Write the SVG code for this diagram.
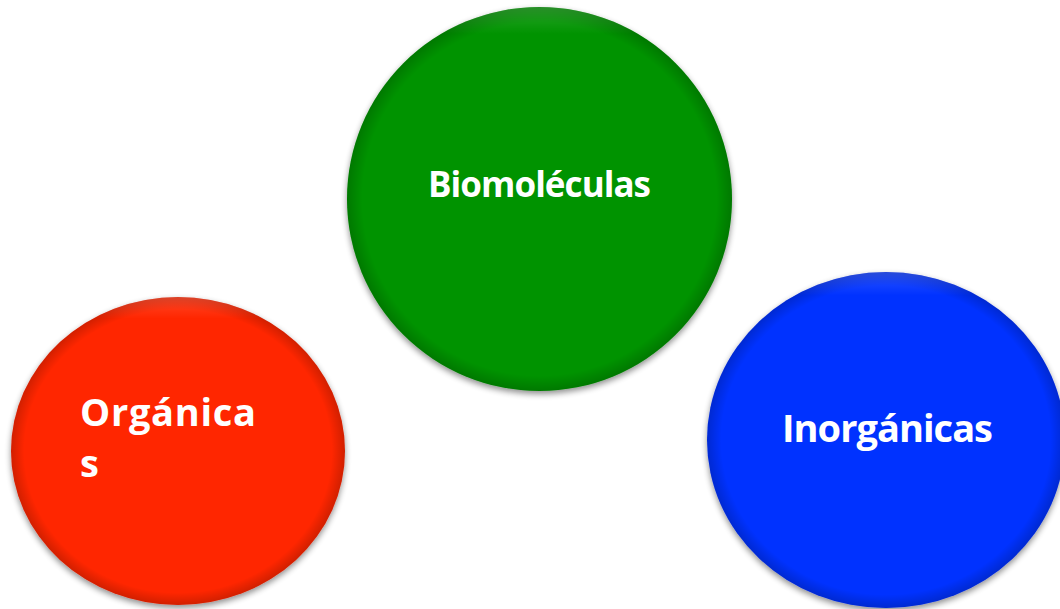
<svg xmlns="http://www.w3.org/2000/svg" width="1060" height="609" viewBox="0 0 1060 609">
<defs>
<filter id="sh" x="-20%" y="-20%" width="140%" height="140%">
<feGaussianBlur in="SourceAlpha" stdDeviation="3"/>
<feOffset dy="3" result="b"/>
<feComponentTransfer><feFuncA type="linear" slope="0.45"/></feComponentTransfer>
<feMerge><feMergeNode/><feMergeNode in="SourceGraphic"/></feMerge>
</filter>
<radialGradient id="rim" cx="50%" cy="50%" r="50%">
<stop offset="0.92" stop-color="#000" stop-opacity="0"/>
<stop offset="1" stop-color="#000" stop-opacity="0.18"/>
</radialGradient>
<linearGradient id="hl" x1="0" y1="0" x2="0" y2="1">
<stop offset="0" stop-color="#fff" stop-opacity="0.16"/>
<stop offset="0.07" stop-color="#fff" stop-opacity="0"/>
</linearGradient>
</defs>
<style>
.lbl{font-family:"Open Sans","Noto Sans","DejaVu Sans",sans-serif;font-weight:700;fill:#fff}
</style>
<rect width="1060" height="609" fill="#fff"/>
<g id="biomoleculas">
<ellipse cx="539.5" cy="199" rx="192.5" ry="192" fill="#009305" filter="url(#sh)"/>
<ellipse cx="539.5" cy="199" rx="192.5" ry="192" fill="url(#rim)"/>
<ellipse cx="539.5" cy="199" rx="192.5" ry="192" fill="url(#hl)"/>
<text class="lbl" x="428" y="197" font-size="35" textLength="223" lengthAdjust="spacing">Biomoléculas</text>
</g>
<g id="organicas">
<ellipse cx="178" cy="451" rx="167" ry="154" fill="#FF2600" filter="url(#sh)"/>
<ellipse cx="178" cy="451" rx="167" ry="154" fill="url(#rim)"/>
<ellipse cx="178" cy="451" rx="167" ry="154" fill="url(#hl)"/>
<text class="lbl" x="80" y="426" font-size="38" textLength="176" lengthAdjust="spacing">Orgánica</text>
<text class="lbl" x="80" y="477" font-size="38">s</text>
</g>
<g id="inorganicas">
<ellipse cx="886" cy="440" rx="179" ry="168" fill="#0432FF" filter="url(#sh)"/>
<ellipse cx="886" cy="440" rx="179" ry="168" fill="url(#rim)"/>
<ellipse cx="886" cy="440" rx="179" ry="168" fill="url(#hl)"/>
<text class="lbl" x="782" y="442" font-size="38" textLength="211" lengthAdjust="spacing">Inorgánicas</text>
</g>
<g id="connectors"/>
</svg>
